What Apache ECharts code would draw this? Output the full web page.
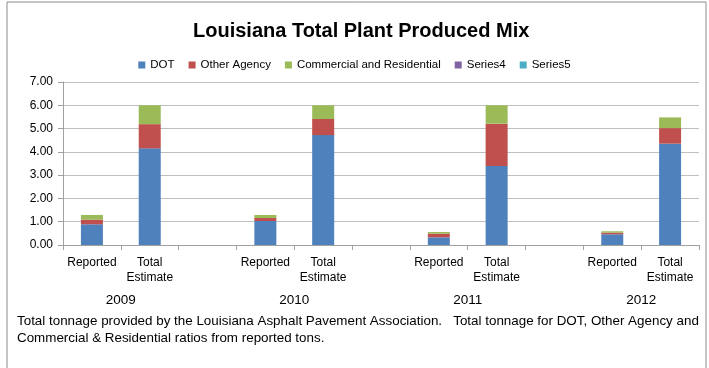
<!DOCTYPE html>
<html><head><meta charset="utf-8">
<script src="https://cdn.jsdelivr.net/npm/echarts@6/dist/echarts.min.js"></script>
<style>html,body{margin:0;padding:0;background:#fff;}#c{width:709px;height:368px;}</style>
</head><body><div id="c"></div>
<script>
const categories = ['Reported','Total Estimate','','Reported','Total Estimate','','Reported','Total Estimate','','Reported','Total Estimate'];
const years = ['2009','2010','2011','2012'];
const dot        = [0.89, 4.15, null, 1.03, 4.72, null, 0.33, 3.39, null, 0.46, 4.35];
const otherAgency= [0.20, 1.04, null, 0.13, 0.69, null, 0.16, 1.82, null, 0.07, 0.67];
const commercial = [0.20, 0.81, null, 0.13, 0.59, null, 0.07, 0.79, null, 0.06, 0.46];
const series4 = [];
const series5 = [];
const footnote = 'Total tonnage provided by the Louisiana Asphalt Pavement Association.   Total tonnage for DOT, Other Agency and\nCommercial & Residential ratios from reported tons.';

const FONT = 'Liberation Sans';
const chart = echarts.init(document.getElementById('c'), null, {renderer:'canvas'});
const mk = (name, data, color) => ({
  name, type:'bar', stack:'s', data, barWidth:22, itemStyle:{color},
  xAxisIndex:0, yAxisIndex:0, emphasis:{disabled:true}
});
chart.setOption({
  animation:false,
  textStyle:{fontFamily:FONT},
  graphic:[{type:'rect', shape:{x:7,y:2,width:699,height:420}, style:{fill:'none', stroke:'#8c8c8c', lineWidth:1}, silent:true}],
  title:[
    {text:'Louisiana Total Plant Produced Mix', left:188, top:16,
     textStyle:{fontFamily:FONT, fontSize:20, fontWeight:'bold', color:'#000'}},
    {text:footnote, left:12, top:308,
     textStyle:{fontFamily:FONT, fontSize:13.4, fontWeight:'normal', color:'#000', lineHeight:17}}
  ],
  legend:{top:54, left:'center', itemWidth:7, itemHeight:7, itemGap:14, icon:'rect',
    textStyle:{fontFamily:FONT, fontSize:11.5, color:'#000'},
    data:['DOT','Other Agency','Commercial and Residential','Series4','Series5']},
  grid:{left:63, right:10, top:82, bottom:123, containLabel:false},
  xAxis:[
    {type:'category', data:categories,
     axisLine:{lineStyle:{color:'#a0a0a0'}},
     axisTick:{show:true, length:5, lineStyle:{color:'#a0a0a0'}},
     axisLabel:{interval:0, color:'#000', fontSize:12, fontFamily:FONT, margin:10, lineHeight:15,
       formatter:v=>v.replace(' ','\n')}},
    {type:'value', min:0, max:categories.length, position:'bottom', offset:40,
     axisLine:{show:false}, axisTick:{show:false}, splitLine:{show:false},
     axisLabel:{customValues:years.map((y,i)=>i*3+1), color:'#000', fontSize:13.5, fontFamily:FONT,
       formatter:v=>years[Math.round((v-1)/3)]}}
  ],
  yAxis:{type:'value', min:0, max:7, interval:1,
    axisLine:{show:true, lineStyle:{color:'#a0a0a0'}},
    axisTick:{show:true, length:5, lineStyle:{color:'#a0a0a0'}},
    splitLine:{lineStyle:{color:'#bfbfbf'}},
    axisLabel:{color:'#000', fontSize:12, fontFamily:FONT, margin:10, formatter:v=>v.toFixed(2)}},
  series:[
    mk('DOT', dot, '#4F81BD'),
    mk('Other Agency', otherAgency, '#C0504D'),
    mk('Commercial and Residential', commercial, '#9BBB59'),
    mk('Series4', series4, '#8064A2'),
    mk('Series5', series5, '#4BACC6')
  ]
});
</script></body></html>
